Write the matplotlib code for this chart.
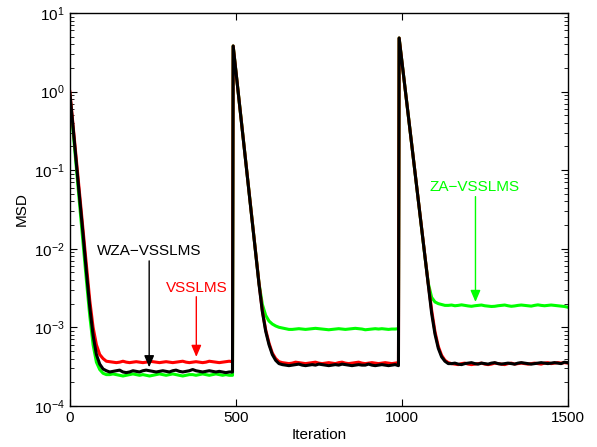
import matplotlib
matplotlib.use("Agg")
import matplotlib.pyplot as plt
from matplotlib.ticker import LogLocator, NullFormatter

# Iteration sample points
iters = list(range(0, 491, 10)) + [492] + list(range(500, 991, 10)) + [992] + list(range(1000, 1501, 10))

e4 = 1e-4
msd_black = (
    [0.95, 0.34, 0.117, 0.042, 0.0148, 5.0e-3, 1.8e-3, 7.9e-4, 4.5e-4, 3.4e-4]
    + [v * e4 for v in [2.95, 2.8, 2.7, 2.75, 2.8, 2.85, 2.7, 2.65, 2.7, 2.8,
                        2.75, 2.7, 2.8, 2.85, 2.8, 2.75, 2.7, 2.75, 2.8, 2.75,
                        2.7, 2.8, 2.85, 2.75, 2.7, 2.75, 2.8, 2.9, 2.8, 2.75,
                        2.7, 2.75, 2.8, 2.75, 2.7, 2.75, 2.7, 2.65, 2.7, 2.7]]
    + [3.8]
    + [1.86, 0.76, 0.31, 0.126, 0.051, 0.021, 8.5e-3, 3.5e-3, 1.58e-3, 8.9e-4, 6.0e-4, 4.5e-4, 3.8e-4]
    + [v * e4 for v in [3.45, 3.35, 3.3, 3.25, 3.3, 3.35, 3.4, 3.3, 3.25, 3.3,
                        3.35, 3.3, 3.4, 3.35, 3.3, 3.25, 3.3, 3.35, 3.3, 3.4,
                        3.35, 3.3, 3.25, 3.3, 3.35, 3.3, 3.3, 3.4, 3.3, 3.25,
                        3.3, 3.35, 3.3, 3.25, 3.3, 3.35, 3.25]]
    + [4.8]
    + [2.5, 1.1, 0.48, 0.21, 0.091, 0.04, 0.0174, 7.6e-3, 3.3e-3, 1.5e-3, 8.2e-4, 5.4e-4, 4.2e-4, 3.7e-4]
    + [v * e4 for v in [3.45, 3.45, 3.5, 3.4, 3.35, 3.45, 3.5, 3.55, 3.45, 3.4,
                        3.5, 3.45, 3.4, 3.5, 3.55, 3.45, 3.4, 3.45, 3.5, 3.45,
                        3.4, 3.5, 3.55, 3.5, 3.45, 3.4, 3.45, 3.5, 3.55, 3.5,
                        3.45, 3.5, 3.55, 3.5, 3.45, 3.6, 3.55]]
)

msd_red = (
    [1.0, 0.36, 0.128, 0.046, 0.0165, 5.9e-3, 2.2e-3, 1.0e-3, 6.0e-4, 4.5e-4, 4.0e-4]
    + [v * e4 for v in [3.7, 3.65, 3.6, 3.55, 3.6, 3.7, 3.6, 3.55, 3.6, 3.65,
                        3.6, 3.55, 3.6, 3.7, 3.65, 3.6, 3.55, 3.6, 3.65, 3.6,
                        3.55, 3.6, 3.65, 3.7, 3.6, 3.55, 3.6, 3.65, 3.6, 3.55,
                        3.6, 3.7, 3.65, 3.6, 3.55, 3.6, 3.65, 3.7, 3.65]]
    + [3.8]
    + [1.86, 0.76, 0.31, 0.126, 0.051, 0.021, 8.6e-3, 3.6e-3, 1.62e-3, 9.3e-4, 6.3e-4, 4.7e-4, 4.0e-4]
    + [v * e4 for v in [3.65, 3.55, 3.5, 3.45, 3.5, 3.6, 3.55, 3.5, 3.45, 3.5,
                        3.55, 3.6, 3.5, 3.45, 3.5, 3.55, 3.5, 3.45, 3.55, 3.6,
                        3.5, 3.45, 3.5, 3.55, 3.6, 3.5, 3.45, 3.5, 3.55, 3.5,
                        3.45, 3.5, 3.55, 3.5, 3.45, 3.5, 3.55]]
    + [4.8]
    + [2.5, 1.1, 0.48, 0.21, 0.092, 0.041, 0.018, 8.0e-3, 3.5e-3, 1.65e-3, 8.8e-4, 5.7e-4, 4.4e-4, 3.8e-4]
    + [v * e4 for v in [3.55, 3.45, 3.4, 3.35, 3.45, 3.5, 3.4, 3.35, 3.4, 3.45,
                        3.5, 3.4, 3.35, 3.4, 3.5, 3.45, 3.4, 3.35, 3.45, 3.5,
                        3.4, 3.45, 3.5, 3.45, 3.4, 3.45, 3.5, 3.45, 3.4, 3.5,
                        3.55, 3.45, 3.5, 3.55, 3.5, 3.55, 3.5]]
)

msd_green = (
    [0.9, 0.3, 0.1, 0.034, 0.0115, 3.9e-3, 1.4e-3, 6.0e-4, 3.6e-4, 2.9e-4]
    + [v * e4 for v in [2.6, 2.5, 2.5, 2.55, 2.5, 2.45, 2.4, 2.45, 2.5, 2.55,
                        2.5, 2.45, 2.5, 2.45, 2.4, 2.45, 2.5, 2.55, 2.5, 2.45,
                        2.5, 2.55, 2.5, 2.45, 2.4, 2.45, 2.5, 2.5, 2.45, 2.5,
                        2.55, 2.5, 2.45, 2.5, 2.55, 2.5, 2.45, 2.5, 2.45, 2.45]]
    + [3.8]
    + [1.86, 0.76, 0.31, 0.126, 0.051, 0.021, 8.6e-3, 3.6e-3, 1.95e-3, 1.42e-3, 1.2e-3, 1.1e-3, 1.04e-3]
    + [v * e4 for v in [1.0e1, 9.8, 9.6, 9.4, 9.4, 9.5, 9.6, 9.5, 9.4, 9.5,
                        9.6, 9.7, 9.6, 9.5, 9.4, 9.3, 9.4, 9.5, 9.6, 9.5,
                        9.4, 9.5, 9.6, 9.7, 9.6, 9.5, 9.3, 9.4, 9.5, 9.6,
                        9.5, 9.6, 9.5, 9.4, 9.5, 9.5, 9.6]]
    + [4.8]
    + [2.5, 1.1, 0.48, 0.21, 0.092, 0.041, 0.018, 7.8e-3, 3.6e-3, 2.4e-3, 2.1e-3, 2.0e-3, 1.95e-3, 1.9e-3]
    + [v * 1e-3 for v in [1.9, 1.92, 1.88, 1.9, 1.93, 1.9, 1.87, 1.85, 1.88, 1.9,
                          1.92, 1.88, 1.86, 1.84, 1.85, 1.88, 1.9, 1.92, 1.88, 1.85,
                          1.87, 1.9, 1.92, 1.9, 1.88, 1.86, 1.9, 1.93, 1.9, 1.88,
                          1.9, 1.92, 1.9, 1.88, 1.86, 1.84, 1.8]]
)

labels = ["WZA\u2212VSSLMS", "VSSLMS", "ZA\u2212VSSLMS"]
colors = ["#000000", "#ff0000", "#00ff00"]
ann_text_pos = [(238, 9.3e-3), (384, 3.15e-3), (1220, 0.061)]
ann_arrow_start = [(239, 7.0e-3), (381, 2.45e-3), (1222, 0.046)]
ann_arrow_tip = [(239, 3.1e-4), (381, 4.2e-4), (1222, 2.1e-3)]

plt.rcParams['font.family'] = ['Liberation Sans', 'DejaVu Sans']
plt.rcParams['mathtext.fontset'] = 'custom'
plt.rcParams['mathtext.rm'] = 'Liberation Sans'

fig = plt.figure(figsize=(5.97, 4.47), dpi=100)
ax = fig.add_axes([0.117, 0.092, 0.834, 0.879])

ax.semilogy(iters, msd_green, color="#00ff00", lw=2.2)
ax.semilogy(iters, msd_red, color="#ff0000", lw=2.2)
ax.semilogy(iters, msd_black, color="#000000", lw=2.2)

ax.set_xlim(0, 1500)
ax.set_ylim(1e-4, 1e1)
ax.set_xticks([0, 500, 1000, 1500])
ax.yaxis.set_major_locator(LogLocator(base=10, numticks=10))
ax.yaxis.set_minor_locator(LogLocator(base=10, subs=range(2, 10), numticks=20))
ax.yaxis.set_minor_formatter(NullFormatter())
ax.tick_params(which='both', direction='in', top=True, right=True, labelsize=11)
ax.tick_params(which='major', length=5, width=0.8)
ax.tick_params(which='minor', length=3, width=0.6)
for s in ax.spines.values():
    s.set_linewidth(1.0)

ax.set_xlabel("Iteration", fontsize=11, labelpad=2)
ax.set_ylabel("MSD", fontsize=11, labelpad=4)

for lab, col, tp, st, tip in zip(labels, colors, ann_text_pos, ann_arrow_start, ann_arrow_tip):
    ax.text(tp[0], tp[1], lab, color=col, fontsize=11, ha='center', va='center')
    ax.annotate('', xy=tip, xytext=st,
                arrowprops=dict(arrowstyle='-|>,head_length=0.7,head_width=0.3',
                                color=col, lw=1.0, shrinkA=0, shrinkB=0))

fig.savefig("out.png", dpi=100)
